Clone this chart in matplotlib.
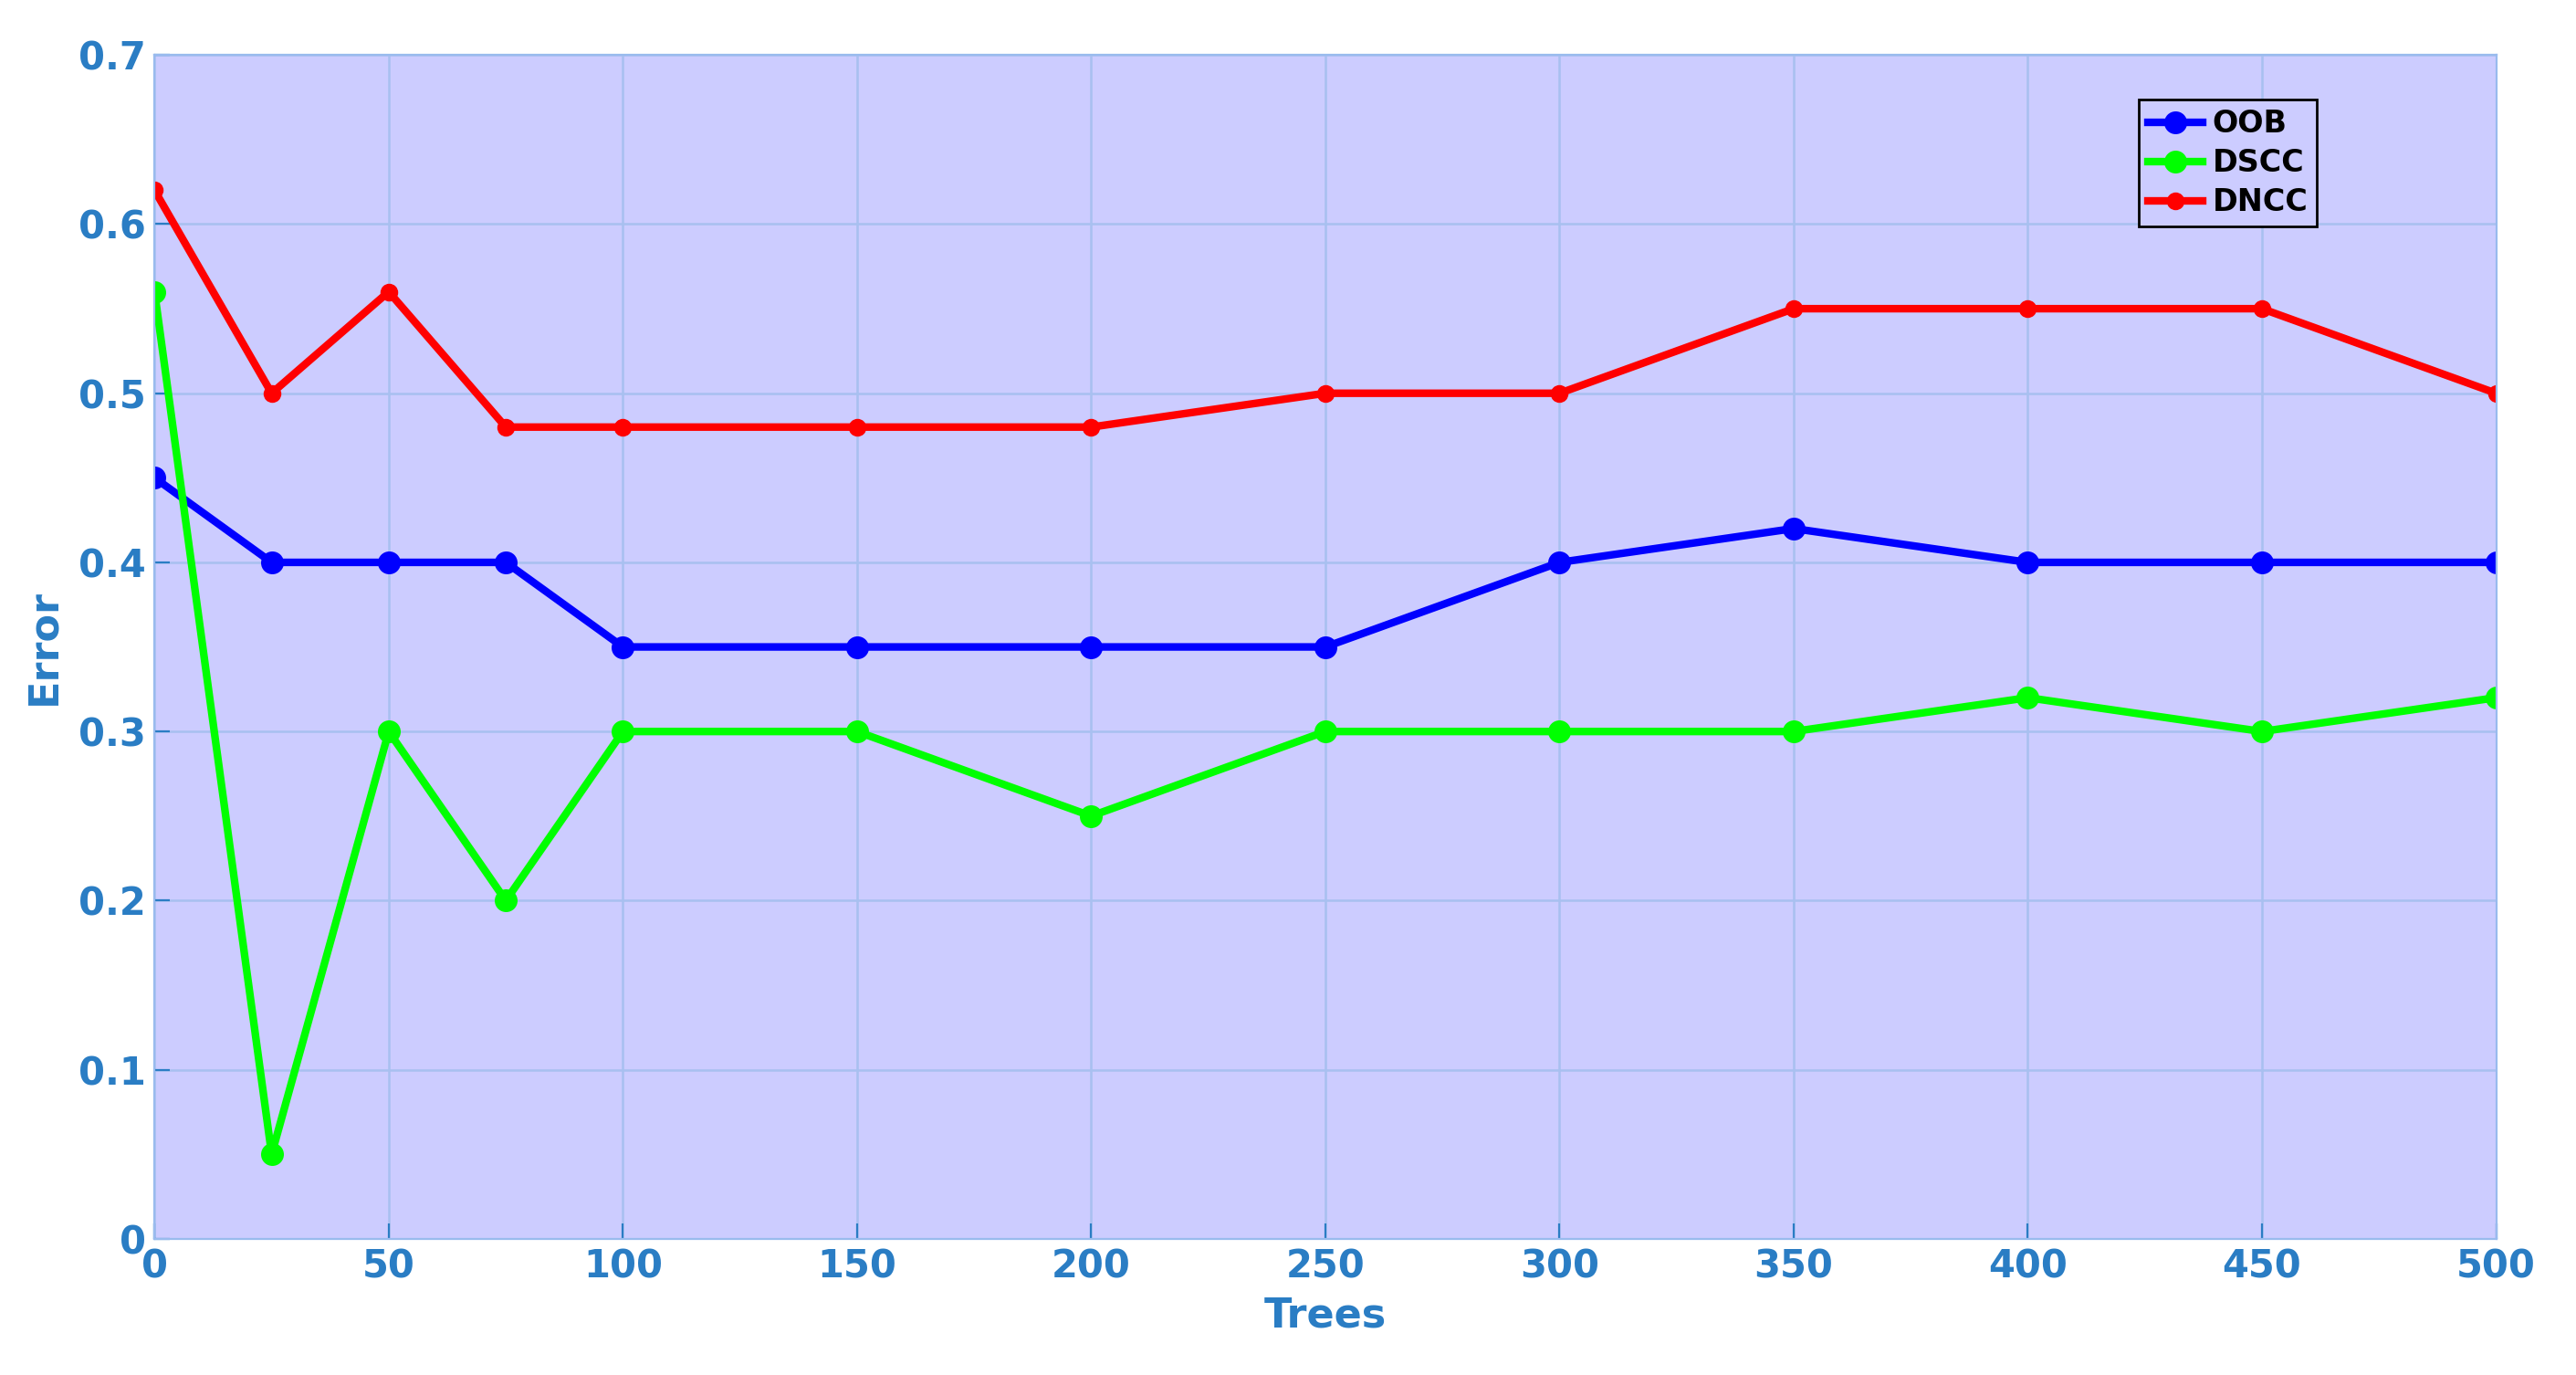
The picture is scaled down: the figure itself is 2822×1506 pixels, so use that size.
import matplotlib
matplotlib.use("Agg")
import matplotlib.pyplot as plt

trees = [0, 25, 50, 75, 100, 150, 200, 250, 300, 350, 400, 450, 500]
oob = [0.45, 0.40, 0.40, 0.40, 0.35, 0.35, 0.35, 0.35, 0.40, 0.42, 0.40, 0.40, 0.40]
dscc = [0.56, 0.05, 0.30, 0.20, 0.30, 0.30, 0.25, 0.30, 0.30, 0.30, 0.32, 0.30, 0.32]
dncc = [0.62, 0.50, 0.56, 0.48, 0.48, 0.48, 0.48, 0.50, 0.50, 0.55, 0.55, 0.55, 0.50]
yticks = [0, 0.1, 0.2, 0.3, 0.4, 0.5, 0.6, 0.7]
ylabels = ['0', '0.1', '0.2', '0.3', '0.4', '0.5', '0.6', '0.7']

tc = '#2a7dc4'
fig = plt.figure(figsize=(14.11, 7.53), dpi=200)
ax = fig.add_axes([0.060, 0.099, 0.909, 0.861])
ax.set_facecolor('#ccccff')
ax.plot(trees, oob, '-o', color='#0000ff', lw=3, ms=8, label='OOB')
ax.plot(trees, dscc, '-o', color='#00ff00', lw=3, ms=8, label='DSCC')
ax.plot(trees, dncc, '-o', color='#ff0000', lw=3, ms=6, label='DNCC')
ax.set_xlim(0, 500)
ax.set_ylim(0, 0.7)
ax.set_xticks(range(0, 501, 50))
ax.set_yticks(yticks)
ax.set_yticklabels(ylabels)
ax.grid(True, color='#a8c0f0', lw=0.9)
ax.set_axisbelow(True)
for s in ax.spines.values():
    s.set_color('#99bbee')
ax.tick_params(colors=tc, labelsize=15, direction='in', length=6)
for lab in ax.get_xticklabels() + ax.get_yticklabels():
    lab.set_fontweight('bold')
ax.set_xlabel('Trees', color=tc, fontsize=16, fontweight='bold', labelpad=4)
ax.set_ylabel('Error', color=tc, fontsize=16, fontweight='bold', labelpad=6)
leg = ax.legend(loc='upper right', bbox_to_anchor=(0.93, 0.975),
                prop={'weight': 'bold', 'size': 12}, handlelength=1.8,
                handletextpad=0.3, borderpad=0.3, labelspacing=0.3,
                fancybox=False, framealpha=1)
leg.get_frame().set_edgecolor('black')
leg.get_frame().set_facecolor('#ccccff')
fig.savefig('out.png')
